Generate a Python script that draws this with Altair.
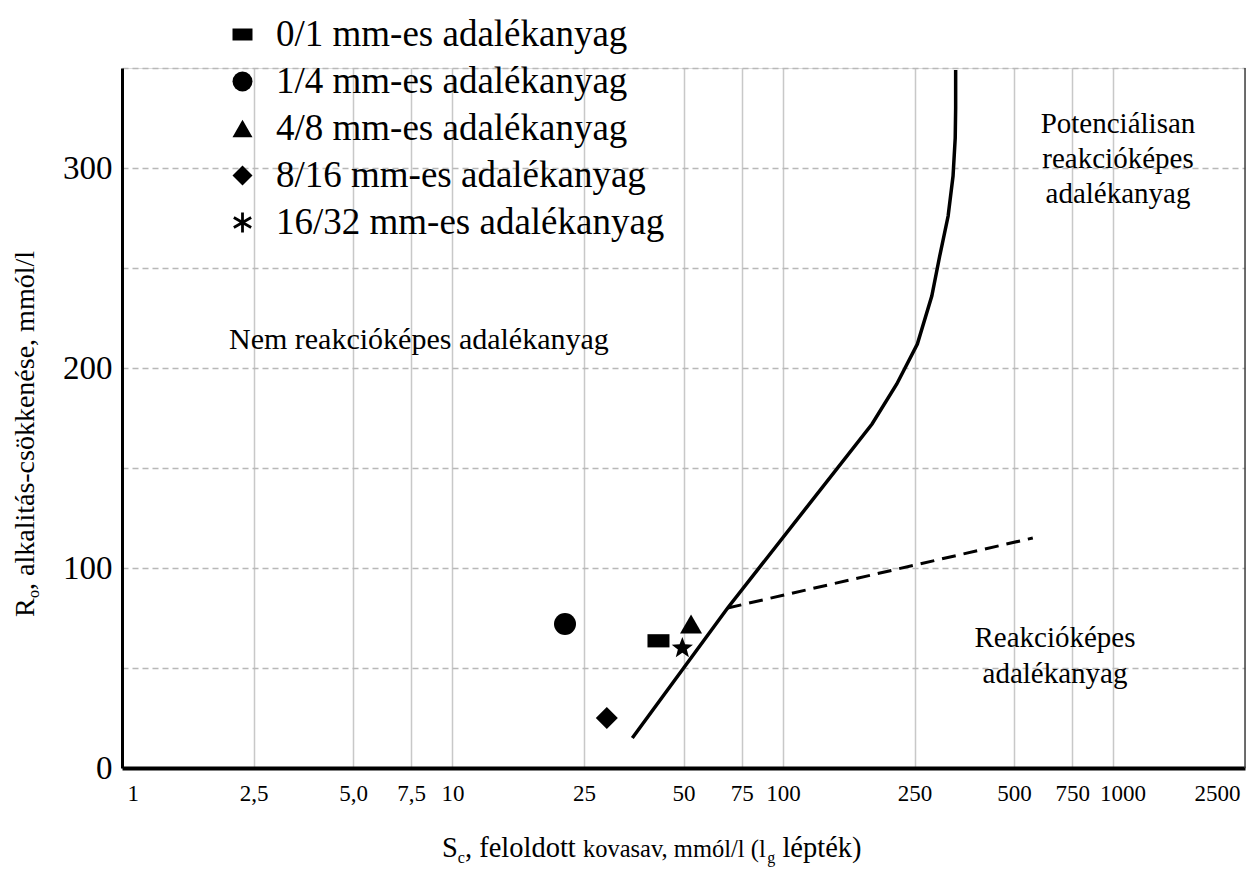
import math
import altair as alt
import pandas as pd

FONT = "Liberation Serif"

# ---- data ----
series_labels = ["0/1 mm-es adalékanyag", "1/4 mm-es adalékanyag", "4/8 mm-es adalékanyag",
                 "8/16 mm-es adalékanyag", "16/32 mm-es adalékanyag"]
point_sc = [42.0, 21.9, 52.7, 29.3, 49.6]
point_ro = [63.6, 72.0, 72.0, 25.0, 60.5]

limit_sc = [35, 68, 186, 221, 255, 282, 298, 316, 327, 332, 333, 333]
limit_ro = [15, 80, 172, 192, 212, 236, 256, 276, 296, 315, 330, 349]

dash_sc = [68, 570]
dash_ro = [80, 115]

x_tick_values = [1, 2.5, 5, 7.5, 10, 25, 50, 75, 100, 250, 500, 750, 1000, 2500]
x_tick_labels = ["1", "2,5", "5,0", "7,5", "10", "25", "50", "75", "100", "250", "500", "750", "1000", "2500"]
y_grid_values = [0, 50, 100, 150, 200, 250, 300, 350]

note_left = "Nem reakcióképes adalékanyag"
note_top_right = "Potenciálisan\nreakcióképes\nadalékanyag"
note_bottom_right = "Reakcióképes\nadalékanyag"

# ---- tables ----
pts = pd.DataFrame({"label": series_labels, "sc": point_sc, "ro": point_ro})
curve = pd.DataFrame({"sc": limit_sc, "ro": limit_ro, "i": list(range(len(limit_sc)))})
dashed = pd.DataFrame({"sc": dash_sc, "ro": dash_ro, "i": list(range(len(dash_sc)))})

# ---- symbol geometry (unit box) ----
RECT = "M-1,-0.6H1V0.6H-1Z"


def _bar(angle_deg, half_w=0.14):
    a = math.radians(angle_deg)
    dx, dy = math.sin(a), -math.cos(a)          # along the bar
    nx, ny = math.cos(a) * half_w, math.sin(a) * half_w  # across the bar
    c = [(dx + nx, dy + ny), (dx - nx, dy - ny), (-dx - nx, -dy - ny), (-dx + nx, -dy + ny)]
    return "M" + "L".join(f"{x:.3f},{y:.3f}" for x, y in c) + "Z"


ASTER = _bar(0) + _bar(60) + _bar(120)
_star = []
for k in range(10):
    r = 1.0 if k % 2 == 0 else 0.42
    a = math.radians(-90 + 36 * k)
    _star.append(f"{r*math.cos(a):.3f},{r*math.sin(a) + 0.1:.3f}")
STAR = "M" + "L".join(_star) + "Z"
shape_range = [RECT, "circle", "triangle-up", "diamond", ASTER]

x_label_expr = "".join(f"datum.value == {v} ? '{l}' : " for v, l in zip(x_tick_values, x_tick_labels)) + "''"

xscale = alt.Scale(type="log", domain=[1, 2500], nice=False)
yscale = alt.Scale(domain=[0, 350], nice=False)

xaxis = alt.Axis(values=x_tick_values, labelExpr=x_label_expr, title=None,
                 grid=True,
                 gridColor={"condition": {"test": "datum.value == 1 || datum.value == 2500", "value": "transparent"},
                            "value": "#c8c8c8"},
                 gridWidth=1.5, domainColor="black", domainWidth=4, ticks=False,
                 labelFont=FONT, labelFontSize=23, labelColor="black", labelPadding=14,
                 labelOffset={"condition": {"test": "datum.value == 1000", "value": 9}, "value": 0},
                 labelFlush=True, labelFlushOffset=-5, labelOverlap=False)
yaxis = alt.Axis(values=y_grid_values, labelExpr="datum.value % 100 == 0 ? datum.label : ''", title=None,
                 grid=True, gridDash=[6, 4],
                 gridColor={"condition": {"test": "datum.value == 0", "value": "transparent"},
                            "value": "#b8b8b8"},
                 gridWidth=1.5, domainColor="black", domainWidth=3, ticks=False,
                 labelFont=FONT, labelFontSize=33, labelColor="black", labelPadding=10)

X = alt.X("sc:Q", scale=xscale, axis=xaxis)
Y = alt.Y("ro:Q", scale=yscale, axis=yaxis)

legend = alt.Legend(title=None, orient="none", legendX=102, legendY=-52,
                    labelFont=FONT, labelFontSize=37, labelColor="black", labelLimit=0,
                    symbolSize=400, symbolFillColor="black", symbolStrokeColor="black",
                    symbolStrokeWidth=0, symbolOpacity=1, rowPadding=9, labelOffset=15, padding=0)

points = alt.Chart(pts).transform_filter(
    alt.datum.label != series_labels[4]
).mark_point(filled=True, size=484, color="black", opacity=1).encode(
    x=X, y=Y,
    shape=alt.Shape("label:N", scale=alt.Scale(domain=series_labels, range=shape_range), legend=legend),
)
star = alt.Chart(pts).transform_filter(
    alt.datum.label == series_labels[4]
).mark_point(filled=True, shape=STAR, size=500, color="black", opacity=1).encode(x=X, y=Y)

solid = alt.Chart(curve).mark_line(color="black", strokeWidth=3.5).encode(x=X, y=Y, order="i:Q")
dash = alt.Chart(dashed).mark_line(color="black", strokeWidth=3, strokeDash=[14, 8]).encode(x=X, y=Y, order="i:Q")

border = alt.Chart(pd.DataFrame({"v": [0]})).mark_rule(color="#404040", strokeWidth=1.5).encode(
    x=alt.X(datum=2500, scale=xscale), y=alt.Y(datum=0, scale=yscale), y2=alt.Y2(datum=350))


def txt(s, x, y, size, align="left", baseline="alphabetic", angle=0, lh=None):
    kw = dict(font=FONT, fontSize=size, color="black", align=align, baseline=baseline)
    if angle:
        kw["angle"] = angle
    if lh:
        kw["lineBreak"] = "\n"
        kw["lineHeight"] = lh
    return alt.Chart(pd.DataFrame({"t": [s]})).mark_text(**kw).encode(
        text="t:N", x=alt.value(x - 122), y=alt.value(y - 68))


notes = [
    txt(note_left, 229, 340, 30, baseline="middle"),
    txt(note_top_right, 1118, 124, 29, align="center", baseline="middle", lh=35),
    txt(note_bottom_right, 1055, 638, 29, align="center", baseline="middle", lh=36),
]

# x title pieces (with subscripts)
x0, base = 442, 857
B, b, sub = 28.5, 24.5, 16
xt = [
    txt("S", x0, base, B),
    txt("c", x0 + 15.85, base + 6, sub),
    txt(", feloldott", x0 + 22.95, base, B),
    txt("kovasav, mmól/l (l", x0 + 140.9, base, b),
    txt("g", x0 + 325.3, base + 6, sub),
    txt("lépték)", x0 + 340.4, base, B),
]
# y title pieces (rotated, with subscript)
yt = [
    txt("R", 34, 617, 28, angle=270),
    txt("o", 39, 598, 16, angle=270),
    txt(", alkalitás-csökkenése, mmól/l", 34, 590, 28, angle=270),
]

chart = alt.layer(border, solid, dash, points, star, *notes, *xt, *yt).properties(
    width=1123, height=700,
    padding={"left": 122, "top": 68, "right": 3, "bottom": 105},
    autosize=alt.AutoSizeParams(type="none"),
    background="white",
).configure_view(stroke=None).configure(font=FONT)

chart.save("out.html", embed_options={"renderer": "svg", "actions": False})
